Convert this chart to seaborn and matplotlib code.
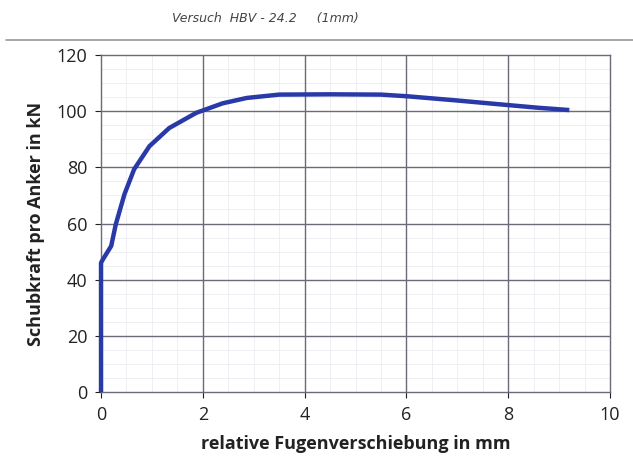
"""Shear force vs. relative joint slip (HBV test), redrawn from scan."""

import numpy as np
import pandas as pd
import matplotlib
matplotlib.use("Agg")
import matplotlib.pyplot as plt
import seaborn as sns
from matplotlib.lines import Line2D

# values
slip_mm = [0.0, 0.0, 0.03, 0.2, 0.29, 0.46, 0.65, 0.95, 1.34, 1.87,
           2.39, 2.86, 3.5, 4.5, 5.5, 6.02, 7.0, 8.04, 8.6, 9.2]
force_kN = [0.0, 46.0, 47.0, 52.0, 59.7, 70.4, 79.3, 87.5, 94.0, 99.4,
            102.8, 104.7, 105.9, 106.0, 105.9, 105.3, 103.8, 102.1, 101.2, 100.4]

x_ticks = [0, 2, 4, 6, 8, 10]
y_ticks = [0, 20, 40, 60, 80, 100, 120]

sns.set_theme(style="white")
plt.rcParams["font.family"] = ["Open Sans", "DejaVu Sans"]

df = pd.DataFrame({"slip": slip_mm, "force": force_kN})

fig = plt.figure(figsize=(6.33, 4.65), dpi=100)
ax = fig.add_axes([0.1596, 0.157, 0.8041, 0.7247])

ax.set_xlim(0, 10)
ax.set_ylim(0, 120)
ax.set_xticks(x_ticks)
ax.set_yticks(y_ticks)
ax.set_xticks(np.arange(0, 10.01, 0.5), minor=True)
ax.set_yticks(np.arange(0, 120.1, 5), minor=True)

# faint graph-paper grid, then the printed major grid on top of it
ax.grid(which="minor", color="#ececf1", linewidth=0.6, zorder=0)
for xv in x_ticks[1:-1]:
    ax.axvline(xv, color="#6a6a78", linewidth=1.0, zorder=1)
for yv in y_ticks[1:-1]:
    ax.axhline(yv, color="#6a6a78", linewidth=1.0, zorder=1)

# estimator=None: the curve has two points at slip 0, keep both
sns.lineplot(data=df, x="slip", y="force", sort=False, estimator=None,
             color="#2A39A8", linewidth=3.2, ax=ax, zorder=3)
for ln in ax.get_lines():
    if ln.get_zorder() == 3:
        ln.set_clip_on(False)
        ln.set_solid_capstyle("butt")
        ln.set_solid_joinstyle("round")

for s in ax.spines.values():
    s.set_color("#6a6a78")
    s.set_linewidth(1.0)

ax.tick_params(axis="both", which="major", labelsize=13, colors="#222222",
               length=4, direction="out", left=True, bottom=True, width=0.8,
               pad=6)
ax.tick_params(which="minor", length=0)

ax.set_xlabel("relative Fugenverschiebung in mm", fontsize=13,
              fontweight="bold", color="#222222", labelpad=8)
ax.set_ylabel("Schubkraft pro Anker in kN", fontsize=13,
              fontweight="bold", color="#222222", labelpad=8)

# handwritten header of the scanned sheet
fig.text(0.42, 0.96, "Versuch  HBV - 24.2     (1mm)", fontsize=9,
         color="#444444", ha="center", va="center", family="DejaVu Sans",
         style="italic")
fig.add_artist(Line2D([0.01, 1.0], [0.914, 0.914], color="#9a9a9a",
                      linewidth=1.2, transform=fig.transFigure))

fig.savefig("out.png", dpi=100, facecolor="white")
